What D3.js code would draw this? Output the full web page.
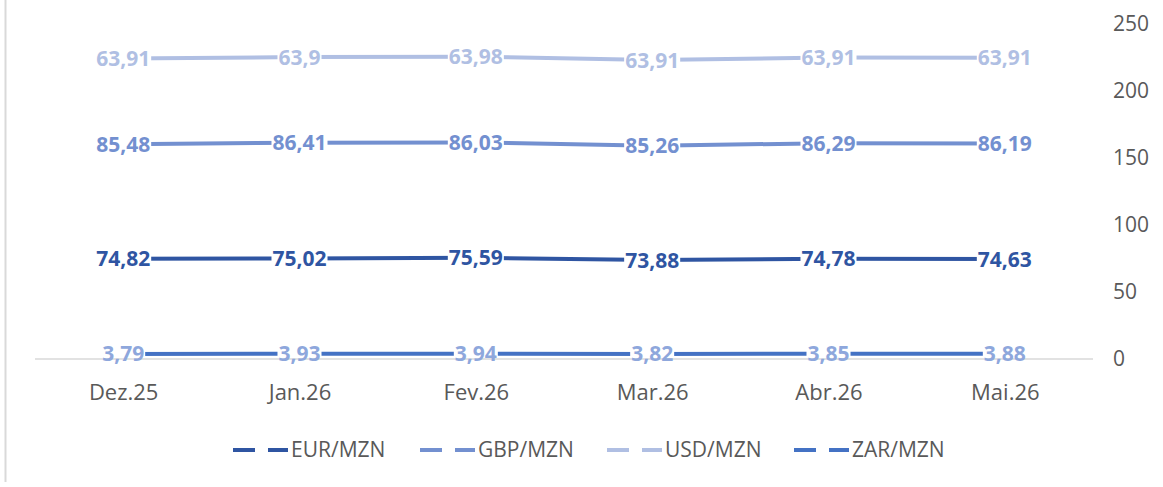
<!DOCTYPE html>
<html>
<head>
<meta charset="utf-8">
<script src="https://cdn.jsdelivr.net/npm/d3@7"></script>
<style>
  body { margin: 0; background: #fff; }
  text { font-family: "Open Sans", sans-serif; }
</style>
</head>
<body>
<svg id="chart" width="1163" height="487"></svg>
<script>
// data
var months = ["Dez.25", "Jan.26", "Fev.26", "Mar.26", "Abr.26", "Mai.26"];
var eur = [74.82, 75.02, 75.59, 73.88, 74.78, 74.63];
var gbp = [85.48, 86.41, 86.03, 85.26, 86.29, 86.19];
var usd = [63.91, 63.9, 63.98, 63.91, 63.91, 63.91];
var zar = [3.79, 3.93, 3.94, 3.82, 3.85, 3.88];
var seriesNames = ["EUR/MZN", "GBP/MZN", "USD/MZN", "ZAR/MZN"];
var yTicks = [0, 50, 100, 150, 200, 250];

var lineColors = ["#2F55A2", "#7390D0", "#B0BFE3", "#4472C4"];
var labelColors = ["#2F55A2", "#7390D0", "#B0BFE3", "#8EA7DC"];

var svg = d3.select("#chart");
var plotLeft = 35, plotRight = 1093, plotTop = 24, plotBottom = 359;

var x = d3.scalePoint().domain(months).range([plotLeft, plotRight]).padding(0.5);
var y = d3.scaleLinear().domain([0, 250]).range([plotBottom, plotTop]);

// chart border on the left
svg.append("line")
  .attr("x1", 5.5).attr("x2", 5.5).attr("y1", 0).attr("y2", 482)
  .attr("stroke", "#d9d9d9").attr("stroke-width", 2);

// baseline
svg.append("line")
  .attr("x1", plotLeft).attr("x2", plotRight).attr("y1", y(0)).attr("y2", y(0))
  .attr("stroke", "#d9d9d9").attr("stroke-width", 1.5);

// right axis
var yAxis = d3.axisRight(y).tickValues(yTicks).tickSize(0).tickPadding(20);
var ga = svg.append("g").attr("transform", "translate(" + plotRight + ",0)").call(yAxis);
ga.select(".domain").remove();
ga.selectAll("text").attr("font-size", 21).attr("fill", "#595959")
  .attr("font-family", "Open Sans, sans-serif");

// x labels
var gx = svg.append("g").attr("transform", "translate(0," + y(0) + ")")
  .call(d3.axisBottom(x).tickSize(0).tickPadding(25));
gx.select(".domain").remove();
gx.selectAll("text").attr("font-size", 22).attr("fill", "#595959")
  .attr("font-family", "Open Sans, sans-serif");

// stacked EUR, GBP, USD; ZAR on its own
var rows = months.map(function(m, i) {
  return { month: m, eur: eur[i], gbp: gbp[i], usd: usd[i] };
});
var stacked = d3.stack().keys(["eur", "gbp", "usd"])(rows);
var raw = [eur, gbp, usd];

var series = [];
stacked.forEach(function(s, k) {
  series.push({
    pts: s.map(function(d, i) { return { m: months[i], top: d[1], v: raw[k][i] }; })
  });
});
series.push({ pts: months.map(function(m, i) { return { m: m, top: zar[i], v: zar[i] }; }) });

var line = d3.line().x(function(d) { return x(d.m); }).y(function(d) { return y(d.top); });

series.forEach(function(s, k) {
  svg.append("path").datum(s.pts)
    .attr("d", line)
    .attr("fill", "none")
    .attr("stroke", lineColors[k])
    .attr("stroke-width", 4)
    .attr("stroke-linejoin", "round");
});

// data labels
series.forEach(function(s, k) {
  var g = svg.append("g");
  s.pts.forEach(function(d) {
    var lg = g.append("g");
    var t = lg.append("text")
      .attr("x", x(d.m)).attr("y", y(d.top))
      .attr("dy", "0.36em")
      .attr("text-anchor", "middle")
      .attr("font-size", 21).attr("font-weight", "bold")
      .attr("fill", labelColors[k])
      .text(String(d.v).replace(".", ","));
    var bb = t.node().getBBox();
    lg.insert("rect", "text")
      .attr("x", bb.x - 1).attr("y", y(d.top) - 4)
      .attr("width", bb.width + 2).attr("height", 8)
      .attr("fill", "#fff");
  });
});

// legend
var legend = svg.append("g").attr("transform", "translate(233,450)");
seriesNames.forEach(function(name, k) {
  var lg = legend.append("g").attr("transform", "translate(" + (k * 187) + ",0)");
  lg.append("line").attr("x1", 0).attr("x2", 55).attr("y1", 0).attr("y2", 0)
    .attr("stroke", lineColors[k]).attr("stroke-width", 4)
    .attr("stroke-dasharray", "22,13");
  lg.append("text").attr("x", 58).attr("y", 0).attr("dy", "0.35em")
    .attr("font-size", 21).attr("fill", "#595959").text(name);
});
</script>
</body>
</html>
